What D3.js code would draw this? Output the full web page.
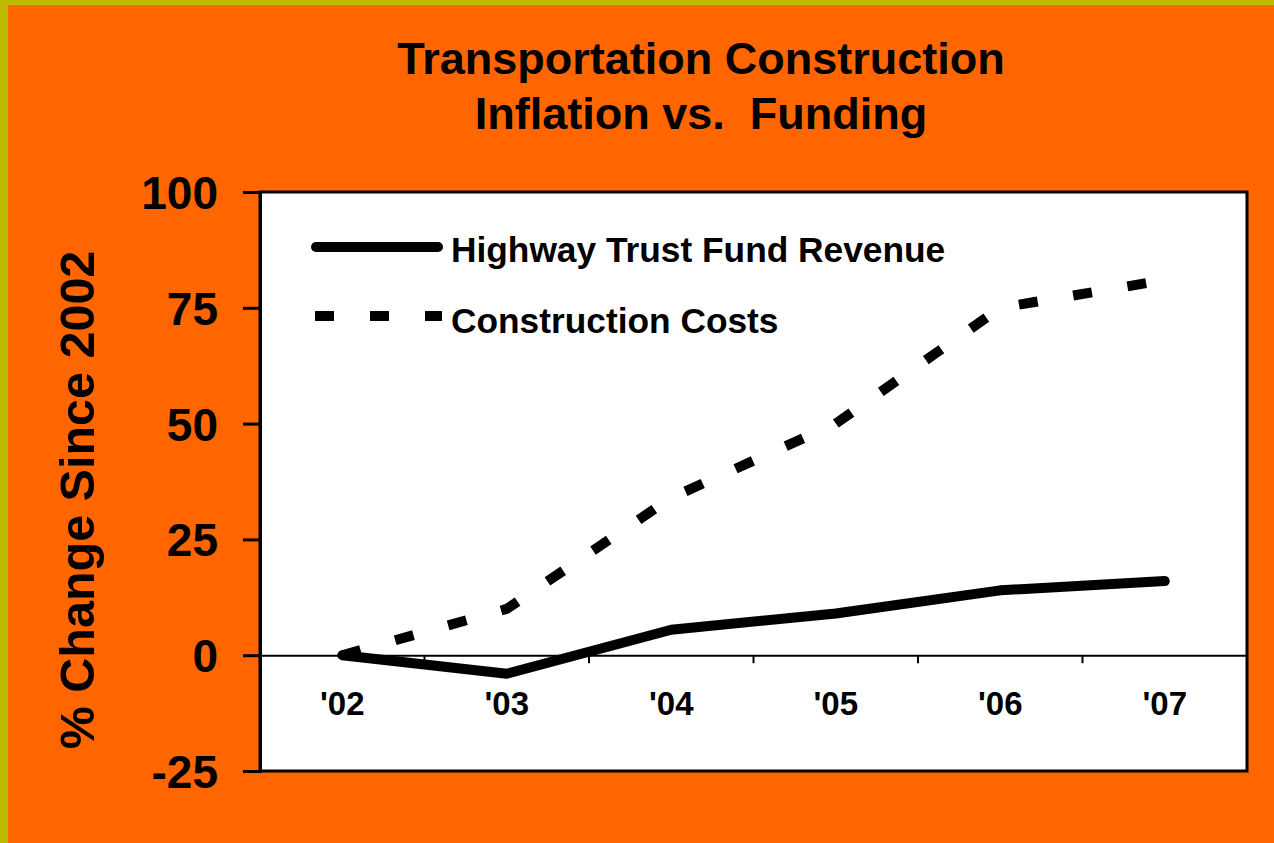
<!DOCTYPE html>
<html>
<head>
<meta charset="utf-8">
<script src="https://cdn.jsdelivr.net/npm/d3@7"></script>
<style>
  body { margin: 0; background: #ff6600; }
  svg { display: block; font-family: "Liberation Sans", Arial, sans-serif; font-weight: bold; }
</style>
</head>
<body>
<svg width="1274" height="843"></svg>
<script>
// chart data
var years = ["'02", "'03", "'04", "'05", "'06", "'07"];
var revenue = [0, -4, 5.5, 9, 14, 16];        // Highway Trust Fund Revenue
var costs = [0, 10, 34, 50, 75, 81];          // Construction Costs
var yTicks = [-25, 0, 25, 50, 75, 100];
var seriesNames = ["Highway Trust Fund Revenue", "Construction Costs"];

var svg = d3.select("svg"),
  width = +svg.attr("width"),
  height = +svg.attr("height");

// page background and the olive border on top / left
svg.append("rect").attr("width", width).attr("height", height).attr("fill", "#bdbb00");
svg.append("rect").attr("x", 8).attr("y", 5).attr("width", width - 8).attr("height", height - 5).attr("fill", "#ff6600");

var plot = { left: 260, top: 192, right: 1247, bottom: 771 };

var x = d3.scaleBand().domain(years).range([plot.left, plot.right]);
var y = d3.scaleLinear().domain([-25, 100]).range([plot.bottom, plot.top]);

// title
var title = svg.append("text")
  .attr("text-anchor", "middle")
  .attr("font-size", 45)
  .attr("fill", "#000");
title.append("tspan").attr("x", 701).attr("y", 74).text("Transportation Construction");
title.append("tspan").attr("x", 701).attr("y", 129).style("white-space", "pre").text("Inflation vs.  Funding");

// plot area
svg.append("rect")
  .attr("x", plot.left).attr("y", plot.top)
  .attr("width", plot.right - plot.left).attr("height", plot.bottom - plot.top)
  .attr("fill", "#fff").attr("stroke", "#000").attr("stroke-width", 3);

// y axis
var yAxis = svg.append("g")
  .attr("transform", "translate(" + plot.left + ",0)")
  .call(d3.axisLeft(y).tickValues(yTicks).tickSize(17).tickPadding(25)
    .tickFormat(function (d) { return String(d); }));
yAxis.select(".domain").attr("stroke-width", 3);
yAxis.selectAll(".tick line").attr("stroke-width", 3);
yAxis.selectAll("text")
  .attr("font-size", 46)
  .attr("font-family", "Liberation Sans, Arial, sans-serif")
  .attr("font-weight", "bold")
  .attr("fill", "#000")
  .attr("dy", "0.36em");

svg.append("text")
  .attr("transform", "translate(94,500) rotate(-90)")
  .attr("text-anchor", "middle")
  .attr("font-size", 48.5)
  .text("% Change Since 2002");

// zero line with category labels
var xAxis = svg.append("g")
  .attr("transform", "translate(0," + y(0) + ")")
  .call(d3.axisBottom(x).tickSize(0).tickPadding(36));
xAxis.select(".domain").attr("stroke-width", 2);
xAxis.selectAll("text")
  .attr("font-size", 33)
  .attr("font-family", "Liberation Sans, Arial, sans-serif")
  .attr("font-weight", "bold")
  .attr("fill", "#000");

// small ticks between categories
svg.append("g")
  .selectAll("line")
  .data(years.slice(1))
  .enter()
  .append("line")
  .attr("x1", function (d) { return x(d); })
  .attr("x2", function (d) { return x(d); })
  .attr("y1", y(0))
  .attr("y2", y(0) + 8)
  .attr("stroke", "#000")
  .attr("stroke-width", 2);

var line = d3.line()
  .x(function (d, i) { return x(years[i]) + x.bandwidth() / 2; })
  .y(function (d) { return y(d); });

svg.append("path")
  .datum(costs)
  .attr("d", line)
  .attr("fill", "none")
  .attr("stroke", "#000")
  .attr("stroke-width", 10)
  .attr("stroke-dasharray", "19,36");

svg.append("path")
  .datum(revenue)
  .attr("d", line)
  .attr("fill", "none")
  .attr("stroke", "#000")
  .attr("stroke-width", 10)
  .attr("stroke-linecap", "round")
  .attr("stroke-linejoin", "round");

// legend
var legend = svg.append("g");
legend.append("line")
  .attr("x1", 316).attr("x2", 438).attr("y1", 247).attr("y2", 247)
  .attr("stroke", "#000").attr("stroke-width", 10).attr("stroke-linecap", "round");
legend.append("line")
  .attr("x1", 315).attr("x2", 442).attr("y1", 316).attr("y2", 316)
  .attr("stroke", "#000").attr("stroke-width", 10).attr("stroke-dasharray", "19,36");
legend.selectAll("text")
  .data(seriesNames)
  .enter()
  .append("text")
  .attr("x", 451)
  .attr("y", function (d, i) { return 262 + i * 71; })
  .attr("font-size", 35.3)
  .text(function (d) { return d; });
</script>
</body>
</html>
